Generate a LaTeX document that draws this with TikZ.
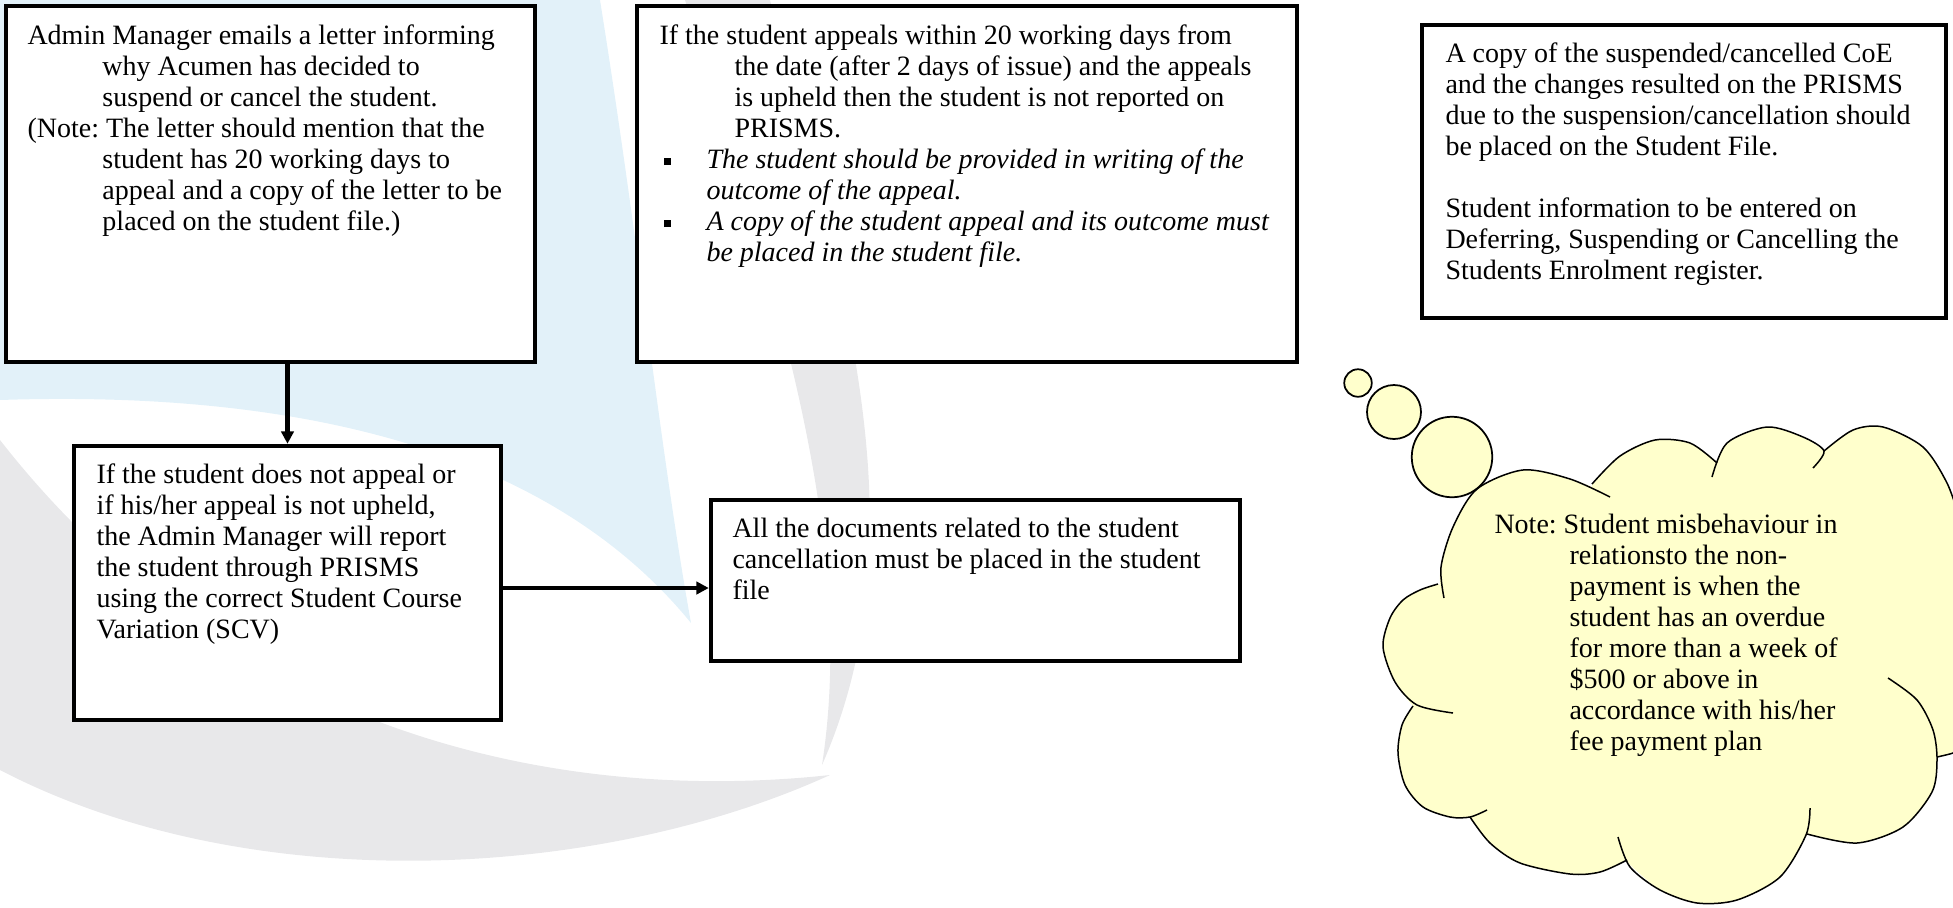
\documentclass[tikz,border=0pt]{standalone}
\usepackage{fontspec}
\setmainfont{Liberation Serif}
\usetikzlibrary{arrows.meta, fit}

\definecolor{wmblue}{RGB}{226,241,249}
\definecolor{wmgrey}{RGB}{232,232,234}
\definecolor{cloudyellow}{RGB}{255,255,204}

\newlength{\pxu}
\setlength{\pxu}{0.4pt}
\newcommand{\boxlines}[1]{\begin{tabular}[t]{@{}l@{}}#1\end{tabular}}
\newcommand{\hangpad}{\hspace*{75\pxu}}
\newcommand{\bulletpad}{\hspace*{4\pxu}\makebox[43\pxu][l]{\rule[1.2pt]{2.8pt}{2.8pt}}}
\frenchspacing

\begin{document}
\begin{tikzpicture}[x=0.4pt, y=-0.4pt,
  stepbox/.style={draw, line width=1.8pt, fill=white, inner sep=0pt},
  txt/.style={anchor=base west, inner sep=0pt, font=\fontsize{11.2}{12.4}\selectfont},
  arr/.style={line width=1.7pt, -{Triangle[length=5pt, width=5pt]}},
  puff/.style={draw, line width=0.7pt, fill=cloudyellow, circle, inner sep=0pt},
  cloudline/.style={line width=0.6pt}]
  \useasboundingbox (0,0) rectangle (1953,907);

  % watermark (logo behind the boxes)
  \fill[wmblue] (600,0) .. controls (640,250) and (660,450) .. (691,623)
    .. controls (550,450) and (300,390) .. (0,400) -- (0,0) -- cycle;
  \fill[wmgrey] (0,440) .. controls (250,760) and (600,800) .. (830,775)
    .. controls (600,880) and (250,900) .. (0,770) -- cycle;
  \fill[wmgrey] (685,0) .. controls (760,250) and (860,520) .. (822,765)
    .. controls (930,520) and (830,250) .. (770,0) -- cycle;

  % boxes
  \node[stepbox, fit={(6,6) (535,362)}] (admin) {};
  \node[stepbox, fit={(637,6) (1297,362)}] (appeal) {};
  \node[stepbox, fit={(1422,25) (1946,318)}] (copy) {};
  \node[stepbox, fit={(74,446) (501,720)}] (report) {};
  \node[stepbox, fit={(711,500) (1240,661)}] (docs) {};

  % box texts
  \node[txt] (admintext) at (27,44) {\boxlines{%
    Admin Manager emails a letter informing\\
    \hangpad why Acumen has decided to\\
    \hangpad suspend or cancel the student.\\
    (Note: The letter should mention that the\\
    \hangpad student has 20 working days to\\
    \hangpad appeal and a copy of the letter to be\\
    \hangpad placed on the student file.)}};
  \node[txt] (appealtext) at (659,44) {\boxlines{%
    If the student appeals within 20 working days from\\
    \hangpad the date (after 2 days of issue) and the appeals\\
    \hangpad is upheld then the student is not reported on\\
    \hangpad PRISMS.\\
    \bulletpad\textit{The student should be provided in writing of the}\\
    \hspace*{47\pxu}\textit{outcome of the appeal.}\\
    \bulletpad\textit{A copy of the student appeal and its outcome must}\\
    \hspace*{47\pxu}\textit{be placed in the student file.}}};
  \node[txt] (copytext) at (1445,62) {\boxlines{%
    A copy of the suspended/cancelled CoE\\
    and the changes resulted on the PRISMS\\
    due to the suspension/cancellation should\\
    be placed on the Student File.\\
    \\
    Student information to be entered on\\
    Deferring, Suspending or Cancelling the\\
    Students Enrolment register.}};
  \node[txt] (reporttext) at (96,483) {\boxlines{%
    If the student does not appeal or\\
    if his/her appeal is not upheld,\\
    the Admin Manager will report\\
    the student through PRISMS\\
    using the correct Student Course\\
    Variation (SCV)}};
  \node[txt] (docstext) at (732,537) {\boxlines{%
    All the documents related to the student\\
    cancellation must be placed in the student\\
    file}};

  % connectors
  \draw[arr] (admin.south -| report.north) -- (report.north);
  \draw[arr] ([yshift=-2pt]report.east) -- ([yshift=-2pt]report.east -| docs.west);

  % thought cloud
  \fill[cloudyellow]
    plot[smooth] coordinates {(1440,585) (1441,567) (1453,527) (1477,489) (1523,470) (1570,479) (1592,487)}
    -- plot[smooth] coordinates {(1592,484) (1620,456) (1655,440) (1690,443) (1717,462)}
    -- plot[smooth] coordinates {(1719,458) (1727,443) (1767,427) (1803,437) (1824,451)}
    -- plot[smooth] coordinates {(1824,451) (1853,430) (1883,427) (1923,447) (1947,483) (1960,520)}
    -- (1960,750) -- (1937,757)
    -- plot[smooth] coordinates {(1937,757) (1932,792) (1903,827) (1857,843) (1807,834)}
    -- plot[smooth] coordinates {(1806,835) (1780,877) (1737,900) (1697,903) (1660,890) (1627,862)}
    -- plot[smooth] coordinates {(1627,860) (1600,872) (1570,874) (1520,863) (1490,843) (1470,817)}
    -- plot[smooth] coordinates {(1470,817) (1450,817) (1423,807) (1405,785) (1398,753) (1402,725) (1413,706)}
    -- plot[smooth] coordinates {(1413,706) (1395,682) (1383,647) (1390,618) (1403,600) (1420,590) (1438,584)}
    -- cycle;
  \draw[cloudline] plot[smooth] coordinates {(1444,598) (1441,567) (1453,527) (1477,489) (1523,470) (1570,479) (1610,497)};
  \draw[cloudline] plot[smooth] coordinates {(1592,484) (1620,456) (1655,440) (1690,443) (1717,463)};
  \draw[cloudline] plot[smooth] coordinates {(1712,477) (1727,443) (1767,427) (1803,437) (1824,451) (1813,468)};
  \draw[cloudline] plot[smooth] coordinates {(1824,451) (1853,430) (1883,427) (1923,447) (1947,483) (1960,520)};
  \draw[cloudline] plot[smooth] coordinates {(1960,748) (1953,753) (1937,757)};
  \draw[cloudline] plot[smooth] coordinates {(1888,678) (1917,700) (1933,730) (1937,760) (1932,792) (1903,827) (1857,843) (1807,834)};
  \draw[cloudline] plot[smooth] coordinates {(1810,808) (1806,835) (1780,877) (1737,900) (1697,903) (1660,890) (1630,867) (1618,837)};
  \draw[cloudline] plot[smooth] coordinates {(1627,860) (1600,872) (1570,874) (1520,863) (1490,843) (1470,817)};
  \draw[cloudline] plot[smooth] coordinates {(1413,706) (1402,725) (1398,753) (1405,785) (1423,807) (1450,817) (1470,817) (1487,810)};
  \draw[cloudline] plot[smooth] coordinates {(1453,713) (1417,705) (1395,682) (1383,647) (1390,618) (1403,600) (1420,590) (1438,584)};

  % thought bubbles
  \node[puff, minimum size=11pt] (bubblesmall) at (1358,383) {};
  \node[puff, minimum size=21.6pt] (bubblemid) at (1394,412) {};
  \node[puff, minimum size=32.2pt] (bubblebig) at (1452,457) {};

  \node[txt] (notetext) at (1494,533) {\boxlines{%
    Note: Student misbehaviour in\\
    \hangpad relationsto the non-\\
    \hangpad payment is when the\\
    \hangpad student has an overdue\\
    \hangpad for more than a week of\\
    \hangpad \$500 or above in\\
    \hangpad accordance with his/her\\
    \hangpad fee payment plan}};
\end{tikzpicture}
\end{document}
